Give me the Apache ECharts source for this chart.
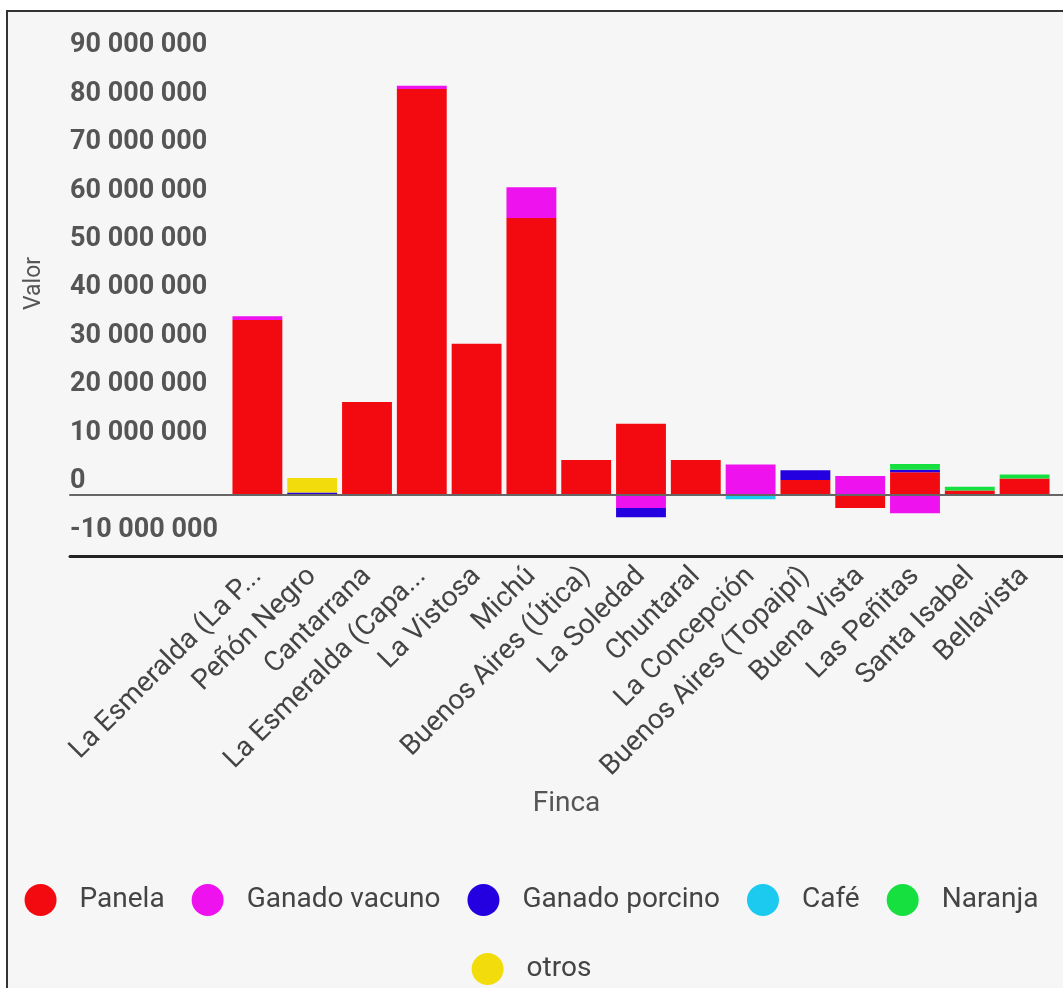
<!DOCTYPE html>
<html>
<head>
<meta charset="utf-8">
<script src="https://cdn.jsdelivr.net/npm/echarts@6/dist/echarts.min.js"></script>
<style>
  html, body { margin: 0; padding: 0; background: #ffffff; }
  #frame {
    position: absolute; left: 6px; top: 10px; width: 1057px; height: 978px;
    border-left: 2px solid #333; border-top: 2px solid #333; background: #f6f6f6;
    box-sizing: border-box;
  }
  #chart { position: absolute; left: 0; top: 0; width: 1063px; height: 988px; }
</style>
</head>
<body>
<div id="frame"></div>
<div id="chart"></div>
<script>
// Farms (fincas)
const categories = [
  'La Esmeralda (La P...', 'Peñón Negro', 'Cantarrana', 'La Esmeralda (Capa...',
  'La Vistosa', 'Michú', 'Buenos Aires (Útica)', 'La Soledad', 'Chuntaral',
  'La Concepción', 'Buenos Aires (Topaipí)', 'Buena Vista', 'Las Peñitas',
  'Santa Isabel', 'Bellavista'
];

// Value per product line, per farm
const panela        = [36100000, null, 19200000, 83800000, 31200000, 57200000, 7200000, 14700000, 7200000, null, 3100000, -2700000, 4700000, 900000, 3400000];
const ganadoVacuno  = [800000, null, null, 700000, null, 6300000, null, -2700000, null, 6300000, null, 3900000, -3800000, null, null];
const ganadoPorcino = [null, 500000, null, null, null, null, null, -1900000, null, null, 2000000, null, 500000, null, null];
const cafe          = [null, null, null, null, null, null, null, null, null, -900000, null, null, null, null, null];
const naranja       = [null, null, null, null, null, null, null, null, null, null, null, null, 1200000, 800000, 800000];
const otros         = [null, 3000000, null, null, null, null, null, null, null, null, null, null, null, null, null];

const yTicks = [-10000000, 0, 10000000, 20000000, 30000000, 40000000, 50000000, 60000000, 70000000, 80000000, 90000000];
const yMin = -12600000;
const yMax = 90000000;

const seriesDefs = [
  { name: 'Panela',         data: panela,        color: '#f20a10' },
  { name: 'Ganado vacuno',  data: ganadoVacuno,  color: '#ee12ee' },
  { name: 'Ganado porcino', data: ganadoPorcino, color: '#2400e0' },
  { name: 'Café',           data: cafe,          color: '#1ccaf0' },
  { name: 'Naranja',        data: naranja,       color: '#16e040' },
  { name: 'otros',          data: otros,         color: '#f2dc0c' }
];

const fmt = v => String(v).replace(/\B(?=(\d{3})+(?!\d))/g, ' ');
const FONT = 'Roboto, "Noto Sans", sans-serif';

const chart = echarts.init(document.getElementById('chart'), null, { renderer: 'canvas' });

const plotTop = 59, plotBottom = 432;
const legendText = { fontSize: 28, color: '#444', fontFamily: FONT, padding: [0, 0, 0, 18] };

chart.setOption({
  backgroundColor: 'transparent',
  animation: false,
  textStyle: { fontFamily: FONT },
  grid: [
    // value labels, axis titles and base line
    { left: 70, right: 0, top: plotTop, bottom: plotBottom },
    // zero line
    { left: 70, right: 0, top: plotTop, bottom: plotBottom },
    // bars
    { left: 230, right: 11, top: plotTop, bottom: plotBottom }
  ],
  xAxis: [
    {
      gridIndex: 0, type: 'category', data: [],
      name: 'Finca', nameLocation: 'middle', nameGap: 234,
      nameTextStyle: { fontSize: 28, color: '#555', fontFamily: FONT },
      axisLine: { show: true, onZero: false, lineStyle: { color: '#222', width: 3 } },
      axisTick: { show: false }, axisLabel: { show: false }, splitLine: { show: false }
    },
    {
      gridIndex: 1, type: 'category', data: [], z: 10,
      axisLine: { show: true, onZero: true, lineStyle: { color: '#666', width: 2 } },
      axisTick: { show: false }, axisLabel: { show: false }, splitLine: { show: false }
    },
    {
      gridIndex: 2, type: 'category', data: categories,
      axisLine: { show: false, onZero: false },
      axisTick: { show: false },
      axisLabel: {
        rotate: 45, margin: 16, fontSize: 28, color: '#444', fontFamily: FONT,
        interval: 0, padding: [0, 0, 0, 0]
      },
      splitLine: { show: false }
    }
  ],
  yAxis: [
    {
      gridIndex: 0, type: 'value', min: yMin, max: yMax,
      name: 'Valor', nameLocation: 'middle', nameGap: 24,
      nameTextStyle: { fontSize: 23, color: '#555', fontFamily: FONT, padding: [0, 0, 0, 48] },
      axisLine: { show: false }, axisTick: { show: false }, splitLine: { show: false },
      axisLabel: {
        inside: true, margin: 0, align: 'left', verticalAlign: 'bottom',
        customValues: yTicks, formatter: fmt,
        fontSize: 27, fontWeight: 'bold', color: '#555', fontFamily: FONT,
        lineHeight: 27, padding: [0, 0, 0, 0]
      }
    },
    { gridIndex: 1, type: 'value', min: yMin, max: yMax, show: false },
    { gridIndex: 2, type: 'value', min: yMin, max: yMax, show: false }
  ],
  legend: [
    {
      data: seriesDefs.slice(0, 5).map(s => s.name),
      top: 879, left: 'center', icon: 'circle',
      itemWidth: 32, itemHeight: 32, itemGap: 27,
      textStyle: legendText
    },
    {
      data: [seriesDefs[5].name],
      top: 948, left: 'center', icon: 'circle',
      itemWidth: 32, itemHeight: 32,
      textStyle: legendText
    }
  ],
  series: seriesDefs.map(s => ({
    name: s.name,
    type: 'bar',
    stack: 'valor',
    xAxisIndex: 2,
    yAxisIndex: 2,
    barCategoryGap: '9%',
    itemStyle: { color: s.color },
    data: s.data
  }))
});
</script>
</body>
</html>
